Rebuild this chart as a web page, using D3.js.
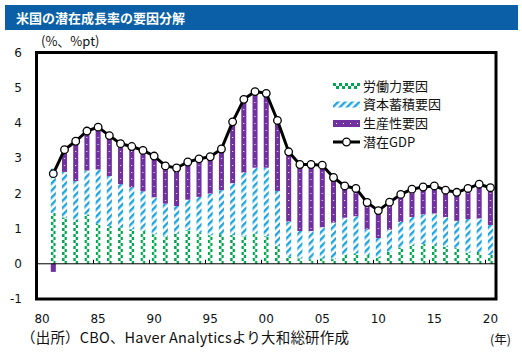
<!DOCTYPE html>
<html>
<head>
<meta charset="utf-8">
<script src="https://cdn.jsdelivr.net/npm/d3@7"></script>
<style>
  html, body { margin: 0; padding: 0; background: #fff; }
  svg { display: block; }
</style>
</head>
<body>
<svg id="chart" width="522" height="360"></svg>
<script>
// ---- data ----
const categories = [1980,1981,1982,1983,1984,1985,1986,1987,1988,1989,1990,1991,1992,1993,1994,1995,1996,1997,1998,1999,2000,
  2001,2002,2003,2004,2005,2006,2007,2008,2009,2010,2011,2012,2013,2014,2015,2016,2017,2018,2019,2020];
const labor = [null,1.44,1.31,1.25,1.40,1.14,1.07,1.03,0.98,0.93,0.84,0.77,0.86,0.95,0.88,0.81,0.84,0.81,0.77,0.86,0.78,
  0.50,0.20,0.15,0.13,0.15,0.13,0.25,0.29,0.25,0.20,0.34,0.46,0.53,0.56,0.53,0.48,0.44,0.31,0.34,0.25];
const capital = [null,1.26,1.30,1.10,1.25,1.54,1.42,1.23,1.19,1.13,1.05,0.94,0.78,0.87,1.02,1.18,1.25,1.48,1.82,1.87,1.95,
  1.57,1.00,0.78,0.80,0.89,1.04,1.06,1.06,0.73,0.53,0.63,0.73,0.80,0.84,0.90,0.85,0.78,0.96,0.95,0.85];
const productivity = [null,-0.23,0.63,1.13,1.12,1.20,1.15,1.15,1.16,1.16,1.17,1.07,1.08,1.07,1.08,1.05,1.17,1.74,2.08,2.16,2.11,
  2.00,1.98,1.89,1.89,1.76,1.28,0.90,0.79,0.76,0.78,0.78,0.78,0.79,0.78,0.78,0.76,0.81,0.87,0.97,1.06];
const potentialGDP = [null,2.56,3.24,3.48,3.77,3.88,3.64,3.41,3.33,3.22,3.06,2.78,2.72,2.89,2.98,3.04,3.26,4.03,4.67,4.89,4.84,
  4.07,3.18,2.82,2.82,2.80,2.45,2.21,2.14,1.74,1.51,1.75,1.97,2.12,2.18,2.21,2.09,2.03,2.14,2.26,2.16];
const xTickYears = [1980,1985,1990,1995,2000,2005,2010,2015,2020];
const xTickLabels = ["80","85","90","95","00","05","10","15","20"];
const yTicks = [-1,0,1,2,3,4,5,6];
const seriesNames = ["労働力要因","資本蓄積要因","生産性要因","潜在GDP"];
const titleText = "米国の潜在成長率の要因分解";
const unitText = "(%、%pt)";
const sourceText = "（出所）CBO、Haver Analyticsより大和総研作成";
const yearUnit = "(年)";

(function(){
// ---- layout ----
const svg = d3.select("#chart");
const pL = 36.5, pR = 496, pT = 52.5, pB = 299;
const JP = "'Noto Sans CJK JP', 'Noto Sans', sans-serif";
const NUM = "'DejaVu Sans', Verdana, sans-serif";

const x = d3.scaleBand().domain(categories).range([pL, pR]).paddingInner(0.55).paddingOuter(0.275);
const y = d3.scaleLinear().domain([-1, 6]).range([pB, pT]);

const cGreen = "#00a650", cBlue = "#1ea5e0", cPurple = "#7030a0";

// ---- patterns ----
const defs = svg.append("defs");
const step = x.step(), bw = x.bandwidth();
const px0 = x(categories[0]);

const pLab = defs.append("pattern").attr("id","pLab").attr("patternUnits","userSpaceOnUse")
  .attr("x", px0).attr("y", 0).attr("width", step).attr("height", 6);
pLab.append("rect").attr("x",0).attr("y",0).attr("width",bw/2).attr("height",3).attr("fill",cGreen);
pLab.append("rect").attr("x",bw/2).attr("y",3).attr("width",bw/2).attr("height",3).attr("fill",cGreen);

const pCap = defs.append("pattern").attr("id","pCap").attr("patternUnits","userSpaceOnUse")
  .attr("width",5).attr("height",5).attr("patternTransform","rotate(45)");
pCap.append("rect").attr("x",0).attr("y",0).attr("width",2.4).attr("height",5).attr("fill",cBlue);

const pPro = defs.append("pattern").attr("id","pPro").attr("patternUnits","userSpaceOnUse")
  .attr("x", px0).attr("y", 1).attr("width", step).attr("height", 7);
pPro.append("rect").attr("x",0).attr("y",0).attr("width",step).attr("height",7).attr("fill",cPurple);
pPro.append("rect").attr("x",Math.floor(bw/2)).attr("y",3).attr("width",1).attr("height",1).attr("fill","#fff");

// legend patterns
const lLab = defs.append("pattern").attr("id","lLab").attr("patternUnits","userSpaceOnUse")
  .attr("x",333).attr("y",83).attr("width",6).attr("height",6);
lLab.append("rect").attr("x",0).attr("y",0).attr("width",3).attr("height",3).attr("fill",cGreen);
lLab.append("rect").attr("x",3).attr("y",3).attr("width",3).attr("height",3).attr("fill",cGreen);
const lPro = defs.append("pattern").attr("id","lPro").attr("patternUnits","userSpaceOnUse")
  .attr("x",333).attr("y",120).attr("width",7).attr("height",7);
lPro.append("rect").attr("width",7).attr("height",7).attr("fill",cPurple);
lPro.append("rect").attr("x",3).attr("y",3).attr("width",1).attr("height",1).attr("fill","#fff");

// ---- title bar ----
svg.append("rect").attr("x",5).attr("y",5).attr("width",513).attr("height",25).attr("fill","#0a5fa6");
svg.append("text").attr("x",16).attr("y",23).attr("fill","#fff")
  .attr("font-family",JP).attr("font-size",13).attr("font-weight","bold").text(titleText);

// ---- bars ----
const rows = categories.map((c,i)=>({c, l:labor[i], k:capital[i], p:productivity[i], g:potentialGDP[i]}))
  .filter(d=>d.l!==null);

const gBars = svg.append("g");
rows.forEach(d=>{
  const lx = x(d.c);
  gBars.append("rect").attr("x",lx).attr("width",bw)
    .attr("y",y(d.l)).attr("height",y(0)-y(d.l)).attr("fill","url(#pLab)");
  gBars.append("rect").attr("x",lx).attr("width",bw)
    .attr("y",y(d.l+d.k)).attr("height",y(d.l)-y(d.l+d.k)).attr("fill","url(#pCap)");
  if (d.p >= 0) {
    const b = d.l + d.k;
    gBars.append("rect").attr("x",lx).attr("width",bw)
      .attr("y",y(b+d.p)).attr("height",y(b)-y(b+d.p)).attr("fill","url(#pPro)");
  } else {
    gBars.append("rect").attr("x",lx).attr("width",bw)
      .attr("y",y(0)).attr("height",y(d.p)-y(0)).attr("fill",cPurple);
  }
});

// zero line + ticks
svg.append("line").attr("x1",pL).attr("x2",pR).attr("y1",y(0)).attr("y2",y(0))
  .attr("stroke","#000").attr("stroke-width",1);
xTickYears.slice(1).forEach(yr=>{
  const tx = Math.round(x(yr) - step*x.paddingInner()/2) + 0.5;
  svg.append("line").attr("x1",tx).attr("x2",tx).attr("y1",y(0)).attr("y2",y(0)-4)
    .attr("stroke","#000").attr("stroke-width",1);
});

// ---- line ----
const line = d3.line().x(d=>x(d.c)+bw/2).y(d=>y(d.g));
svg.append("path").datum(rows).attr("d",line).attr("fill","none")
  .attr("stroke","#000").attr("stroke-width",3).attr("stroke-linejoin","round");
svg.append("g").selectAll("circle").data(rows).join("circle")
  .attr("cx",d=>x(d.c)+bw/2).attr("cy",d=>y(d.g)).attr("r",3.8)
  .attr("fill","#fff").attr("stroke","#000").attr("stroke-width",1.3);

// ---- frame ----
svg.append("rect").attr("x",pL).attr("y",pT).attr("width",pR-pL).attr("height",pB-pT)
  .attr("fill","none").attr("stroke","#000").attr("stroke-width",3);

// ---- axes labels ----
svg.append("g").selectAll("text").data(yTicks).join("text")
  .attr("x",22).attr("y",d=>y(d)).attr("dy","0.36em").attr("text-anchor","end")
  .attr("font-family",NUM).attr("font-size",12).attr("fill","#111").text(d=>d);
svg.append("g").selectAll("text").data(xTickYears).join("text")
  .attr("x",(d)=>x(d)+bw/2).attr("y",323).attr("text-anchor","middle")
  .attr("font-family",NUM).attr("font-size",12).attr("fill","#111")
  .text((d,i)=>xTickLabels[i]);

svg.append("text").attr("x",41).attr("y",46).attr("font-family",JP).attr("font-size",13)
  .attr("fill","#111").text(unitText);
svg.append("text").attr("x",21).attr("y",343).attr("font-family",JP).attr("font-size",14.5)
  .attr("textLength",328).attr("lengthAdjust","spacing")
  .attr("fill","#111").text(sourceText);
svg.append("text").attr("x",490).attr("y",344).attr("font-family",JP).attr("font-size",12.5)
  .attr("fill","#111").text(yearUnit);

// ---- legend ----
const lg = svg.append("g");
const lx0 = 333, lw = 27;
lg.append("rect").attr("x",lx0).attr("y",83).attr("width",lw).attr("height",6).attr("fill","url(#lLab)");
lg.append("rect").attr("x",lx0).attr("y",101.5).attr("width",lw).attr("height",6).attr("fill","url(#pCap)");
lg.append("rect").attr("x",lx0).attr("y",120).attr("width",lw).attr("height",7).attr("fill","url(#lPro)");
lg.append("line").attr("x1",lx0).attr("x2",lx0+lw).attr("y1",142).attr("y2",142).attr("stroke","#000").attr("stroke-width",3);
lg.append("circle").attr("cx",lx0+lw/2).attr("cy",142).attr("r",3.8).attr("fill","#fff").attr("stroke","#000").attr("stroke-width",1.3);
[86,104.5,123.5,142].forEach((yy,i)=>{
  lg.append("text").attr("x",363).attr("y",yy).attr("dy","0.36em").attr("font-family",JP)
    .attr("font-size",13).attr("fill","#111").text(seriesNames[i]);
});
})();
</script>
</body>
</html>
